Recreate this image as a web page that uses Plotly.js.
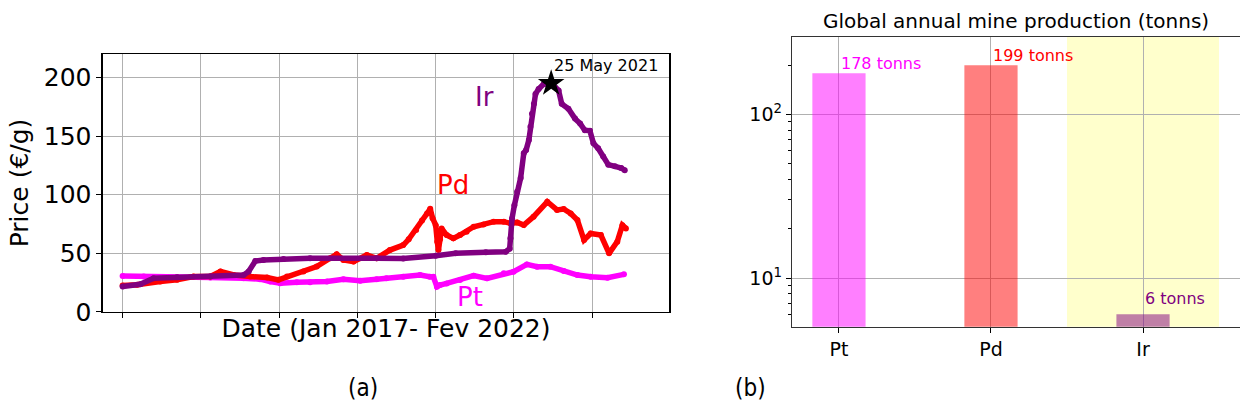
<!DOCTYPE html>
<html>
<head>
<meta charset="utf-8">
<script src="https://cdn.plot.ly/plotly-3.0.1.min.js"></script>
<style>
html,body{margin:0;padding:0;background:#fff;}
#chart{width:1240px;height:418px;}
</style>
</head>
<body>
<div id="chart"></div>
<script>
// ---- Panel (a): daily prices, x = trading-day index (Jan 2017 .. Feb 2022) ----
const ptDay = [0,54,139,224,309,351,377,403,445,479,522,564,607,649,674,717,760,785,794,803,811,828,862,897,931,974,999,1033,1059,1093,1127,1162,1196,1239,1281];
const ptPrice = [30.8,30.2,29.7,29.4,28.8,28,26,24.6,25.4,25.4,26,28,26.6,28,28.7,30.1,31.5,30.1,30,21.6,23,24.4,27.3,31,28.7,33,34.4,40.6,38.6,38.6,35,31.5,30.1,29.3,32.1];

const pdDay = [0,37,96,139,181,224,250,284,326,369,398,420,462,496,530,547,564,590,624,649,683,717,731,750,765,778,786,792,800,804,807,811,815,828,845,862,879,897,922,948,974,991,1008,1025,1050,1085,1110,1127,1145,1162,1179,1196,1222,1243,1264,1277,1286];
const pdPrice = [22.6,23.2,26,27.4,30.2,30.2,34.5,31.6,30.2,29.4,27.4,30.2,34.5,38.7,45.8,49.2,44.4,43,48.6,45.8,52.8,57.1,62,70,78,84,88,80,74,60,52.8,62,71.3,65.6,62.8,65.6,68.5,72.7,74.7,77,77,75.6,76.4,74.1,81.3,94,87,87.8,84,78.4,61.4,67,65.6,50,60,74,71.3];

const irDay = [0,45,79,139,224,309,322,339,360,411,479,649,717,800,851,928,979,989,991,995,1001,1008,1017,1025,1031,1038,1042,1046,1051,1055,1063,1076,1097,1114,1122,1139,1156,1169,1181,1194,1203,1215,1228,1241,1258,1274,1283];
const irPrice = [21.8,23.7,28.8,29.7,30.2,31.6,34.5,43.5,44.4,45.2,45.8,45.8,45.7,48,50,50.9,51.4,54,62.8,79.8,91,102.6,114.3,135.4,138.2,146.6,157.9,169.1,177.5,186,190.2,194.4,195,188.8,177.5,173.3,164.9,160.7,155,154.5,143.8,139.6,132.6,125.6,124.2,122.8,120.8];

const peakDay = [1095];
const peakPrice = [195];
const peakLabel = '25 May 2021';

// ---- Panel (b): global annual mine production ----
const metals = ['Pt','Pd','Ir'];
const production = [178, 199, 6];
const prodLabels = ['178 tonns','199 tonns','6 tonns'];

const FONT = 'DejaVu Sans, Liberation Sans, sans-serif';
const GRID = '#b0b0b0';

const traces = [
  {x: ptDay, y: ptPrice, type:'scatter', mode:'lines+markers', line:{color:'#ff00ff', width:5.5}, marker:{color:'#ff00ff', size:6}, xaxis:'x', yaxis:'y', hoverinfo:'skip'},
  {x: pdDay, y: pdPrice, type:'scatter', mode:'lines+markers', line:{color:'#ff0000', width:5.5}, marker:{color:'#ff0000', size:6}, xaxis:'x', yaxis:'y', hoverinfo:'skip'},
  {x: irDay, y: irPrice, type:'scatter', mode:'lines+markers', line:{color:'#800080', width:5.5}, marker:{color:'#800080', size:6}, xaxis:'x', yaxis:'y', hoverinfo:'skip'},
  {x: peakDay, y: peakPrice, type:'scatter', mode:'markers', marker:{symbol:'star', color:'#000', size:20}, xaxis:'x', yaxis:'y', hoverinfo:'skip'},
  {x: metals, y: production, type:'bar', width:0.35,
   marker:{color:['rgba(255,0,255,0.5)','rgba(255,0,0,0.5)','rgba(128,0,128,0.5)'], line:{width:0}},
   xaxis:'x2', yaxis:'y2', hoverinfo:'skip'}
];

const labelColors = ['#ff00ff','#ff0000','#800080'];
const labelShift = [10, 10, 16];
const annotations = [
  {x: 845, y: 108, xref:'x', yref:'y', text:'Pd', showarrow:false, font:{family:FONT, size:26, color:'#ff0000'}},
  {x: 925, y: 183, xref:'x', yref:'y', text:'Ir', showarrow:false, font:{family:FONT, size:26, color:'#800080'}},
  {x: 888, y: 13, xref:'x', yref:'y', text:'Pt', showarrow:false, font:{family:FONT, size:26, color:'#ff00ff'}},
  {x: peakDay[0], y: peakPrice[0], xref:'x', yref:'y', text: peakLabel, showarrow:false, xanchor:'left', yanchor:'middle', xshift:1, yshift:18, font:{family:FONT, size:16, color:'#000'}},
  {x: 0.2788, y: 0.034, xref:'paper', yref:'paper', text:'(a)', showarrow:false, font:{family:'Liberation Sans Narrow, DejaVu Sans Condensed, Noto Sans', size:24, color:'#000'}},
  {x: 0.6052, y: 0.034, xref:'paper', yref:'paper', text:'(b)', showarrow:false, font:{family:'Liberation Sans Narrow, DejaVu Sans Condensed, Noto Sans', size:24, color:'#000'}}
];
metals.forEach((m, i) => {
  annotations.push({x: m, y: Math.log10(production[i]), xref:'x2', yref:'y2', text: prodLabels[i], showarrow:false,
    xanchor:'left', yanchor:'middle', xshift:0, yshift: labelShift[i], font:{family:FONT, size:16, color: labelColors[i]}});
});

const layout = {
  width:1240, height:418,
  margin:{l:0, r:0, t:0, b:0},
  paper_bgcolor:'#fff', plot_bgcolor:'#fff',
  showlegend:false,
  font:{family:FONT, color:'#000'},
  title:{text:'Global annual mine production (tonns)', font:{family:FONT, size:20, color:'#000'}, x:0.8194, xanchor:'center', xref:'paper', y:0.95, yanchor:'middle', yref:'container'},
  xaxis:{domain:[0.0828, 0.5398], range:[-51, 1397], tick0:0, dtick:200, showticklabels:false,
    ticks:'outside', ticklen:5, tickcolor:'#000', showgrid:true, gridcolor:GRID, gridwidth:1, zeroline:false,
    showline:true, linecolor:'#000', linewidth:1.2, mirror:true,
    title:{text:'Date (Jan 2017- Fev 2022)', font:{family:FONT, size:25}, standoff:2}},
  yaxis:{domain:[0.2536, 0.8708], range:[0, 220], tick0:0, dtick:50, ticks:'outside', ticklen:5, tickcolor:'#000',
    tickfont:{family:FONT, size:25}, showgrid:true, gridcolor:GRID, gridwidth:1, zeroline:false,
    showline:true, linecolor:'#000', linewidth:1.2, mirror:true,
    title:{text:'Price (€/g)', font:{family:FONT, size:25}, standoff:8}},
  xaxis2:{domain:[0.6387, 1], type:'category', range:[-0.309, 2.638], anchor:'y2',
    ticks:'outside', ticklen:5, tickcolor:'#000', tickfont:{family:FONT, size:19},
    showgrid:true, gridcolor:GRID, gridwidth:1, zeroline:false,
    showline:true, linecolor:'#333', linewidth:1.2, mirror:true},
  yaxis2:{domain:[0.2184, 0.9122], type:'log', range:[0.7025, 2.474], anchor:'x2',
    tickmode:'array', tickvals:[10,100], ticktext:['10<sup>1</sup>','10<sup>2</sup>'],
    ticks:'outside', ticklen:5, tickcolor:'#000', tickfont:{family:FONT, size:19},
    showgrid:true, gridcolor:GRID, gridwidth:1, zeroline:false,
    showline:true, linecolor:'#333', linewidth:1.2, mirror:true,
    minor:{tickmode:'array', tickvals:[6,7,8,9,20,30,40,50,60,70,80,90,200], ticks:'outside', ticklen:3, tickcolor:'#000', showgrid:false}},
  shapes:[
    {type:'rect', xref:'x2', yref:'y2 domain', x0:1.5, x1:2.5, y0:0, y1:1, fillcolor:'rgba(255,255,0,0.2)', line:{width:0}, layer:'below'}
  ],
  annotations: annotations
};

Plotly.newPlot('chart', traces, layout, {staticPlot:true, displayModeBar:false});
</script>
</body>
</html>
